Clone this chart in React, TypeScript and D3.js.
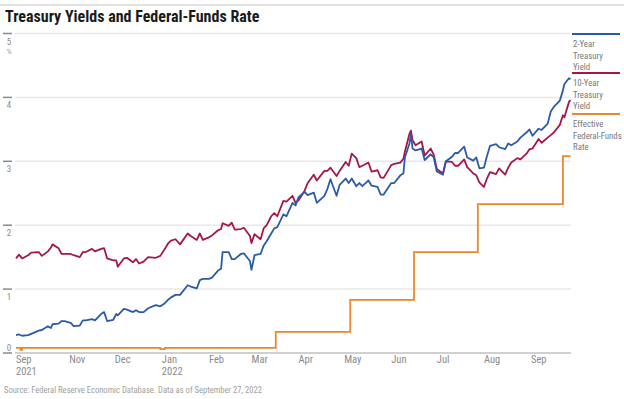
import * as d3 from "d3";

const W = 624;
const H = 399;
const FONT = "'Roboto Condensed', 'Liberation Sans Narrow', 'DejaVu Sans Condensed', 'Arial Narrow', Roboto, sans-serif";

// Treasury yields, % (shared trading dates)
const dates = [
  "2021-09-27", "2021-09-29", "2021-10-01", "2021-10-05", "2021-10-07", "2021-10-12", "2021-10-14", "2021-10-18",
  "2021-10-20", "2021-10-21", "2021-10-25", "2021-10-27", "2021-10-29", "2021-11-02", "2021-11-04", "2021-11-08",
  "2021-11-10", "2021-11-12", "2021-11-16", "2021-11-18", "2021-11-22", "2021-11-24", "2021-11-26", "2021-11-30",
  "2021-12-02", "2021-12-03", "2021-12-07", "2021-12-09", "2021-12-13", "2021-12-15", "2021-12-17", "2021-12-20",
  "2021-12-23", "2021-12-28", "2021-12-31", "2022-01-03", "2022-01-05", "2022-01-07", "2022-01-10", "2022-01-13",
  "2022-01-18", "2022-01-20", "2022-01-24", "2022-01-26", "2022-01-28", "2022-02-01", "2022-02-03", "2022-02-07",
  "2022-02-09", "2022-02-10", "2022-02-14", "2022-02-16", "2022-02-18", "2022-02-22", "2022-02-24", "2022-02-28",
  "2022-03-01", "2022-03-03", "2022-03-07", "2022-03-09", "2022-03-11", "2022-03-14", "2022-03-16", "2022-03-18",
  "2022-03-22", "2022-03-24", "2022-03-28", "2022-03-30", "2022-04-01", "2022-04-05", "2022-04-07", "2022-04-11",
  "2022-04-13", "2022-04-18", "2022-04-20", "2022-04-22", "2022-04-26", "2022-04-28", "2022-05-02", "2022-05-04",
  "2022-05-06", "2022-05-09", "2022-05-11", "2022-05-13", "2022-05-17", "2022-05-19", "2022-05-23", "2022-05-25",
  "2022-05-27", "2022-06-01", "2022-06-03", "2022-06-07", "2022-06-09", "2022-06-10", "2022-06-13", "2022-06-14",
  "2022-06-15", "2022-06-17", "2022-06-21", "2022-06-23", "2022-06-27", "2022-06-29", "2022-07-01", "2022-07-05",
  "2022-07-07", "2022-07-11", "2022-07-13", "2022-07-15", "2022-07-19", "2022-07-21", "2022-07-25", "2022-07-27",
  "2022-07-29", "2022-08-01", "2022-08-03", "2022-08-05", "2022-08-09", "2022-08-11", "2022-08-15", "2022-08-17",
  "2022-08-19", "2022-08-23", "2022-08-25", "2022-08-29", "2022-08-31", "2022-09-02", "2022-09-06", "2022-09-08",
  "2022-09-12", "2022-09-14", "2022-09-16", "2022-09-20", "2022-09-22", "2022-09-23", "2022-09-26", "2022-09-27",
];

const twoYear = [
  0.28, 0.29, 0.27, 0.28, 0.30, 0.35, 0.36, 0.42,
  0.39, 0.45, 0.46, 0.50, 0.50, 0.47, 0.42, 0.43,
  0.51, 0.51, 0.53, 0.51, 0.61, 0.64, 0.50, 0.52,
  0.61, 0.59, 0.69, 0.68, 0.64, 0.67, 0.64, 0.64,
  0.70, 0.75, 0.73, 0.78, 0.83, 0.87, 0.91, 0.91,
  1.06, 1.04, 1.01, 1.14, 1.16, 1.16, 1.18, 1.29,
  1.32, 1.58, 1.58, 1.47, 1.47, 1.55, 1.56, 1.44,
  1.30, 1.53, 1.55, 1.68, 1.75, 1.87, 1.95, 1.97,
  2.17, 2.14, 2.35, 2.31, 2.44, 2.52, 2.47, 2.51,
  2.35, 2.46, 2.57, 2.72, 2.46, 2.63, 2.73, 2.66,
  2.73, 2.61, 2.66, 2.61, 2.70, 2.62, 2.60, 2.48,
  2.48, 2.66, 2.66, 2.78, 2.81, 3.06, 3.28, 3.43,
  3.20, 3.17, 3.20, 3.02, 3.11, 3.06, 2.84, 2.79,
  3.00, 3.07, 3.13, 3.13, 3.23, 3.06, 3.01, 3.06,
  2.89, 2.90, 3.08, 3.24, 3.27, 3.22, 3.19, 3.28,
  3.25, 3.31, 3.37, 3.45, 3.50, 3.40, 3.51, 3.49,
  3.59, 3.78, 3.85, 3.95, 4.11, 4.21, 4.30, 4.29,
];

const tenYear = [
  1.48, 1.54, 1.48, 1.53, 1.57, 1.58, 1.52, 1.59,
  1.65, 1.70, 1.64, 1.55, 1.55, 1.55, 1.53, 1.50,
  1.58, 1.58, 1.63, 1.59, 1.63, 1.64, 1.48, 1.45,
  1.45, 1.35, 1.48, 1.49, 1.42, 1.47, 1.40, 1.43,
  1.50, 1.49, 1.52, 1.63, 1.71, 1.76, 1.78, 1.70,
  1.87, 1.83, 1.77, 1.87, 1.77, 1.81, 1.84, 1.92,
  1.94, 2.03, 1.99, 2.04, 1.93, 1.94, 1.96, 1.83,
  1.72, 1.86, 1.78, 1.95, 2.00, 2.14, 2.19, 2.14,
  2.38, 2.37, 2.46, 2.35, 2.39, 2.54, 2.66, 2.79,
  2.70, 2.85, 2.85, 2.90, 2.77, 2.85, 2.99, 2.93,
  3.12, 3.05, 2.91, 2.93, 2.98, 2.84, 2.86, 2.75,
  2.74, 2.94, 2.96, 2.98, 3.04, 3.15, 3.43, 3.48,
  3.33, 3.25, 3.31, 3.09, 3.20, 3.10, 2.88, 2.81,
  3.00, 2.99, 2.93, 2.93, 3.03, 2.91, 2.81, 2.78,
  2.67, 2.60, 2.73, 2.83, 2.80, 2.89, 2.79, 2.90,
  2.98, 3.05, 3.03, 3.12, 3.19, 3.20, 3.35, 3.29,
  3.37, 3.41, 3.45, 3.57, 3.72, 3.69, 3.93, 3.96,
];

// Effective federal-funds rate, % (value holds until next date)
const ffDates = [
  "2021-09-27", "2021-09-30", "2021-10-01", "2021-12-31", "2022-01-03", "2022-03-17",
  "2022-05-05", "2022-06-16", "2022-07-28", "2022-09-22", "2022-09-27",
];
const ffRate = [0.08, 0.05, 0.08, 0.06, 0.08, 0.33, 0.83, 1.58, 2.33, 3.08, 3.08];

const yTicks = [0, 1, 2, 3, 4, 5];
const xTickDates = [
  "2021-09-27", "2021-11-01", "2021-12-01", "2022-01-01", "2022-02-01", "2022-03-01",
  "2022-04-01", "2022-05-01", "2022-06-01", "2022-07-01", "2022-08-01", "2022-09-01",
];
const xTickLabels = ["Sep", "Nov", "Dec", "Jan", "Feb", "Mar", "Apr", "May", "Jun", "Jul", "Aug", "Sep"];
const xTickYears = ["2021", "", "", "2022", "", "", "", "", "", "", "", ""];

const legend = [
  { lines: ["2-Year", "Treasury", "Yield"], color: "#2c5ba6" },
  { lines: ["10-Year", "Treasury", "Yield"], color: "#a3174a" },
  { lines: ["Effective", "Federal-Funds", "Rate"], color: "#e8892e" },
];

type Pt = { d: Date; v: number };

export default function App() {
  const parse = d3.utcParse("%Y-%m-%d");
  const x = d3
    .scaleUtc()
    .domain([parse("2021-09-27")!, parse("2022-09-27")!])
    .range([16, 570.5]);
  const y = d3.scaleLinear().domain([0, 5]).range([353, 33.5]);

  const two: Pt[] = dates.map((s, i) => ({ d: parse(s)!, v: twoYear[i] }));
  const ten: Pt[] = dates.map((s, i) => ({ d: parse(s)!, v: tenYear[i] }));
  const ff: Pt[] = ffDates.map((s, i) => ({ d: parse(s)!, v: ffRate[i] }));

  const line = d3
    .line<Pt>()
    .x((p) => x(p.d))
    .y((p) => y(p.v));
  const step = d3
    .line<Pt>()
    .x((p) => x(p.d))
    .y((p) => y(p.v))
    .curve(d3.curveStepAfter);

  const gridX0 = 15;
  const gridX1 = 571;
  const legendX = 572;
  const legendTops = [34, 73, 114];

  return (
    <svg
      width={W}
      height={H}
      style={{ position: "absolute", left: 0, top: 0, background: "#fff" }}
      fontFamily={FONT}
    >
      {/* top rule and title */}
      <line x1={0} x2={W} y1={5} y2={5} stroke="#d9d9d9" strokeWidth={1.5} />
      <text x={5} y={22} fontSize={16} fontWeight="bold" fill="#1a1a1a">
        Treasury Yields and Federal-Funds Rate
      </text>

      {/* gridlines + y labels */}
      {yTicks.map((t) => (
        <g key={t}>
          <line
            x1={gridX0}
            x2={gridX1}
            y1={y(t)}
            y2={y(t)}
            stroke={t === 0 ? "#d0d0d0" : "#e8e8e8"}
            strokeWidth={t === 0 ? 2 : 1.5}
          />
          <line x1={3} x2={12} y1={y(t)} y2={y(t)} stroke="#8a8a8a" strokeWidth={1.5} />
          <text x={9} y={t === 0 ? y(t) - 2 : y(t) + 11} fontSize={9} fill="#8a8a8a" textAnchor="middle">
            {t}
          </text>
        </g>
      ))}
      <text x={9} y={y(5) + 20} fontSize={8} fill="#9a9a9a" textAnchor="middle">
        %
      </text>

      {/* series */}
      <path d={step(ff) ?? ""} fill="none" stroke="#e8892e" strokeWidth={1.8} />
      <path d={line(ten) ?? ""} fill="none" stroke="#a3174a" strokeWidth={1.8} strokeLinejoin="round" />
      <path d={line(two) ?? ""} fill="none" stroke="#2c5ba6" strokeWidth={1.8} strokeLinejoin="round" />

      {/* x axis labels */}
      {xTickDates.map((s, i) => (
        <g key={s} transform={`translate(${x(parse(s)!)},0)`}>
          <text x={0} y={363} fontSize={10.5} fill="#8a8a8a">
            {xTickLabels[i]}
          </text>
          {xTickYears[i] && (
            <text x={0} y={375} fontSize={10.5} fill="#8a8a8a">
              {xTickYears[i]}
            </text>
          )}
        </g>
      ))}

      {/* legend */}
      {legend.map((item, i) => (
        <g key={i}>
          <line
            x1={legendX}
            x2={620}
            y1={legendTops[i]}
            y2={legendTops[i]}
            stroke={item.color}
            strokeWidth={2}
          />
          {item.lines.map((l, j) => (
            <text key={j} x={legendX + 1} y={legendTops[i] + 13 + j * 11.5} fontSize={8.8} fill="#777">
              {l}
            </text>
          ))}
        </g>
      ))}

      <text x={4} y={393} fontSize={9.5} fill="#a0a0a0" textLength={258} lengthAdjust="spacingAndGlyphs">
        Source: Federal Reserve Economic Database. Data as of September 27, 2022
      </text>
    </svg>
  );
}
